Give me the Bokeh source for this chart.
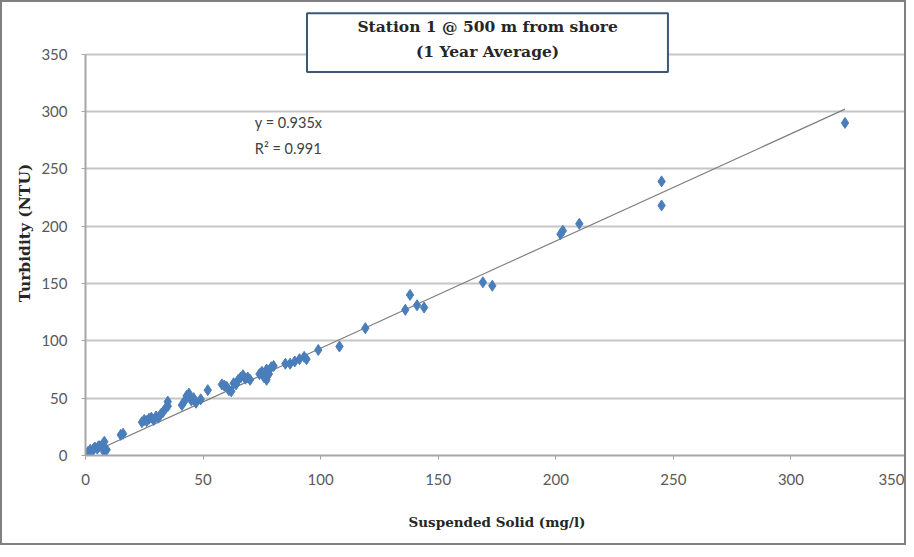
from bokeh.plotting import figure
from bokeh.models import Range1d, Label, BoxAnnotation
from bokeh.embed import file_html
from bokeh.resources import INLINE

# Suspended solid (mg/l) vs turbidity (NTU)
ss = [0, 1, 1.5, 2, 3, 3.5, 4, 5, 6, 7, 8, 8, 9, 2.5, 5.5,
      15, 16,
      24, 25, 26, 27, 28, 29, 30, 31, 32, 33, 34, 35, 35,
      41, 42, 43, 44, 45, 46, 47, 49,
      52,
      58, 59, 60, 61, 62, 63, 64, 65, 66, 67, 68, 69, 70,
      74, 75, 76, 77, 77, 78, 79, 80,
      85, 87, 89, 91, 93, 94,
      99, 108,
      119,
      136, 138, 141, 144,
      169, 173,
      202, 203, 210,
      245, 245,
      323]
turb = [1, 3, 2, 5, 4, 6, 7, 6, 8, 9, 12, 3, 5, 3, 8,
        18, 19,
        29, 31, 30, 32, 33, 31, 34, 33, 36, 38, 41, 47, 43,
        44, 47, 52, 54, 48, 50, 46, 49,
        57,
        62, 61, 60, 57, 56, 63, 62, 66, 68, 70, 67, 68, 66,
        71, 73, 68, 66, 75, 71, 77, 78,
        80, 80, 82, 84, 86, 84,
        92, 95,
        111,
        127, 140, 131, 129,
        151, 148,
        193, 196, 202,
        239, 218,
        290]

slope = 0.935
trend_x = [0, 323]
trend_y = [slope * v for v in trend_x]

x_ticks = [0, 50, 100, 150, 200, 250, 300, 350]
y_ticks = [0, 50, 100, 150, 200, 250, 300, 350]

title_lines = ["Station 1 @ 500 m from shore", "(1 Year Average)"]
equation_lines = ["y = 0.935x", "R² = 0.991"]

tick_font = "Lato"
serif_bold = "DejaVu Serif"

p = figure(width=906, height=545, output_backend="svg", toolbar_location=None,
           x_range=Range1d(0, 350), y_range=Range1d(0, 388),
           min_border_left=83, min_border_right=0, min_border_top=8, min_border_bottom=92)
p.styles = {"border": "2px solid #808080"}
p.outline_line_color = None
p.background_fill_color = "white"

p.xaxis.ticker = x_ticks
p.yaxis.ticker = y_ticks
p.xgrid.grid_line_color = None
p.ygrid.ticker = y_ticks
p.ygrid.grid_line_color = "#c6c6c6"
p.ygrid.grid_line_width = 1.8
p.yaxis.bounds = (0, 350)

for ax in (p.xaxis, p.yaxis):
    ax.axis_line_color = "#a6a6a6"
    ax.axis_line_width = 2
    ax.major_tick_line_color = "#a6a6a6"
    ax.major_tick_in = 0
    ax.major_tick_out = 4
    ax.minor_tick_line_color = None
    ax.major_label_text_font = tick_font
    ax.major_label_text_font_size = "15px"
    ax.major_label_text_color = "#595959"
    ax.axis_label_text_font = serif_bold
    ax.axis_label_text_font_style = "bold"
    ax.axis_label_text_color = "#262626"

p.xaxis.axis_label_text_font_size = "13.5px"
p.yaxis.axis_label_text_font_size = "15.5px"
p.xaxis.major_label_standoff = 14
p.yaxis.major_label_standoff = 14
p.xaxis.axis_label = "Suspended Solid (mg/l)"
p.yaxis.axis_label = "Turbidity (NTU)"
p.xaxis.axis_label_standoff = 26
p.yaxis.axis_label_standoff = 4

p.line(trend_x, trend_y, line_color="#7f7f7f", line_width=1.2)
p.scatter(ss, turb, marker="diamond", size=11, fill_color="#4a7ebb", line_color="#4a7ebb")

p.add_layout(Label(x=72, y=290, text=equation_lines[0], text_font=tick_font,
                   text_font_size="14.5px", text_color="#404040", text_baseline="middle"))
p.add_layout(Label(x=72, y=268, text=equation_lines[1], text_font=tick_font,
                   text_font_size="14.5px", text_color="#404040", text_baseline="middle"))

p.add_layout(BoxAnnotation(left=94.2, right=247.7, bottom=334.3, top=385.7,
                           fill_color="white", fill_alpha=1.0,
                           line_color="#3b5876", line_width=2, line_alpha=1.0))
p.add_layout(Label(x=171, y=374.4, text=title_lines[0], text_align="center",
                   text_baseline="middle", text_font=serif_bold, text_font_style="bold",
                   text_font_size="15.5px", text_color="#262626"))
p.add_layout(Label(x=171, y=352.6, text=title_lines[1], text_align="center",
                   text_baseline="middle", text_font=serif_bold, text_font_style="bold",
                   text_font_size="15.5px", text_color="#262626"))

open("out.html", "w").write(file_html(p, INLINE))
